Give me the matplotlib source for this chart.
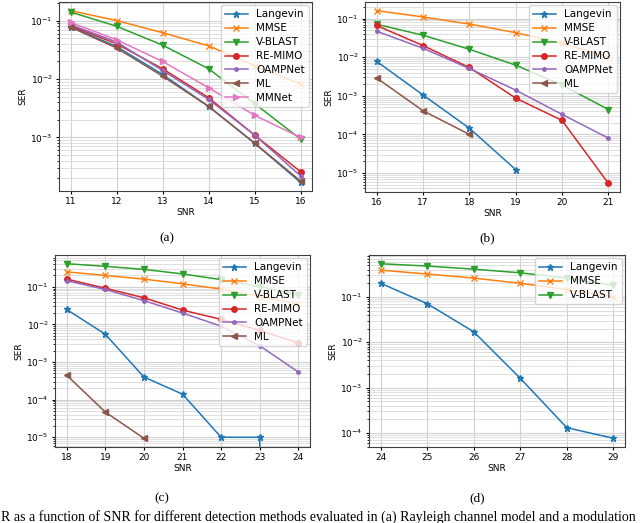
import numpy as np
import matplotlib.pyplot as plt

# (a)
snr_a = [11, 12, 13, 14, 15, 16]
lang_a = [0.079, 0.036, 0.012, 0.0034, 0.0008, 0.00017]
mmse_a = [0.148, 0.1, 0.062, 0.037, 0.017, 0.0082]
vblast_a = [0.14, 0.08, 0.038, 0.015, 0.0038, 0.00094]
remimo_a = [0.082, 0.04, 0.015, 0.0048, 0.0011, 0.00026]
oamp_a = [0.085, 0.043, 0.014, 0.0045, 0.0011, 0.00022]
ml_a = [0.077, 0.034, 0.0112, 0.0034, 0.0008, 0.00018]
mmnet_a = [0.093, 0.047, 0.02, 0.0071, 0.0024, 0.001]

# (b)
snr_b = [16, 17, 18, 19, 20, 21]
lang_b = [0.0078, 0.00105, 0.000145, 0.0000123]
mmse_b = [0.16, 0.11, 0.072, 0.043, 0.023, 0.01]
vblast_b = [0.071, 0.037, 0.016, 0.0062, 0.0019, 0.00044]
remimo_b = [0.066, 0.02, 0.0054, 0.00087, 0.00023, 0.0000054]
oamp_b = [0.047, 0.017, 0.0051, 0.0014, 0.00033, 0.00008]
ml_b = [0.0029, 0.00041, 0.0001]

# (c)
snr_c = [18, 19, 20, 21, 22, 23, 24]
lang_c = [0.025, 0.0055, 0.0004, 0.00014, 0.00001, 0.00001, 0.0]
mmse_c = [0.25, 0.2, 0.16, 0.12, 0.087, 0.055, 0.035]
vblast_c = [0.41, 0.35, 0.29, 0.22, 0.155, 0.1, 0.06]
remimo_c = [0.16, 0.092, 0.051, 0.024, 0.0136, 0.0069, 0.0032]
oamp_c = [0.145, 0.085, 0.043, 0.02, 0.009, 0.0027, 0.00054]
ml_c = [0.00045, 0.000047, 0.0000094]

# (d)
snr_d = [24, 25, 26, 27, 28, 29]
lang_d = [0.2, 0.071, 0.017, 0.0016, 0.00013, 0.000076]
mmse_d = [0.39, 0.32, 0.26, 0.2, 0.145, 0.1]
vblast_d = [0.54, 0.48, 0.41, 0.34, 0.26, 0.18]

styles = {
    "Langevin": ("tab:blue", "*"),
    "MMSE": ("tab:orange", "x"),
    "V-BLAST": ("tab:green", "v"),
    "RE-MIMO": ("tab:red", "o"),
    "OAMPNet": ("tab:purple", "."),
    "ML": ("tab:brown", "<"),
    "MMNet": ("tab:pink", ">"),
}

panels = [
    ([59, 2, 312, 191], snr_a, [("Langevin", lang_a), ("MMSE", mmse_a), ("V-BLAST", vblast_a),
                                ("RE-MIMO", remimo_a), ("OAMPNet", oamp_a), ("ML", ml_a),
                                ("MMNet", mmnet_a)], "(a)", (167, 238)),
    ([365, 2, 620, 192], snr_b, [("Langevin", lang_b), ("MMSE", mmse_b), ("V-BLAST", vblast_b),
                                 ("RE-MIMO", remimo_b), ("OAMPNet", oamp_b), ("ML", ml_b)],
     "(b)", (487, 238)),
    ([55, 255, 310, 447], snr_c, [("Langevin", lang_c), ("MMSE", mmse_c), ("V-BLAST", vblast_c),
                                  ("RE-MIMO", remimo_c), ("OAMPNet", oamp_c), ("ML", ml_c)],
     "(c)", (162, 498)),
    ([369, 255, 625, 447], snr_d, [("Langevin", lang_d), ("MMSE", mmse_d), ("V-BLAST", vblast_d)],
     "(d)", (477, 498)),
]

W, H = 640, 523
fig = plt.figure(figsize=(6.4, 5.23), dpi=100)

for box, snr, series, cap, cpos in panels:
    l, t, r, b = box
    ax = fig.add_axes([l / W, 1 - b / H, (r - l) / W, (b - t) / H])
    ax.set_yscale("log", nonpositive="clip")
    for name, vals in series:
        c, m = styles[name]
        ms = 5 if m in ("*", ".") else 4
        ax.plot(snr[:len(vals)], vals, color=c, marker=m, markersize=ms,
                linewidth=1.1, label=name)
    ax.grid(True, which="major", color="0.82", linewidth=0.8)
    ax.grid(True, which="minor", color="0.85", linewidth=0.6)
    ax.set_xlabel("SNR", fontsize=6.5, labelpad=1)
    ax.set_ylabel("SER", fontsize=6.5, labelpad=2)
    ax.tick_params(labelsize=6.5, length=2.5, pad=2)
    ax.tick_params(which="minor", length=1.5)
    ax.set_xticks(snr)
    for s in ax.spines.values():
        s.set_color("0.25")
        s.set_linewidth(0.8)
    ax.legend(loc="upper right", fontsize=7.5, borderaxespad=0.3,
              handlelength=2.2, labelspacing=0.38, borderpad=0.4)
    fig.text(cpos[0] / W, 1 - cpos[1] / H, cap, ha="center", va="center",
             family="Liberation Serif", fontsize=9.5)

fig.text(0.002, 1 - 517 / H,
         "R as a function of SNR for different detection methods evaluated in (a) Rayleigh channel model and a modulation",
         ha="left", va="center", family="Liberation Serif", fontsize=10)

fig.savefig("out.png", dpi=100)
